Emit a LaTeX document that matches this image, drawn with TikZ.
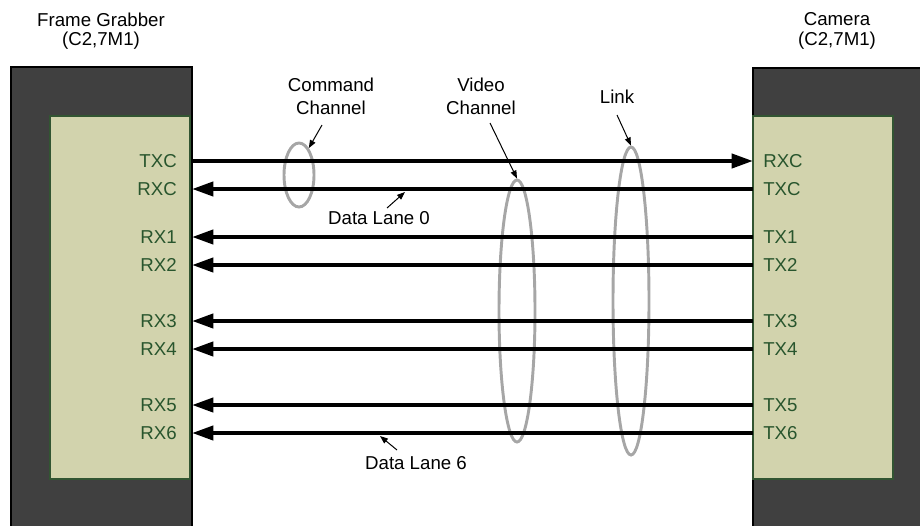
\documentclass[tikz,border=0pt]{standalone}
\usepackage{fontspec}
\setmainfont{Liberation Sans}
\usetikzlibrary{arrows.meta,shapes.geometric}
\definecolor{boxdark}{RGB}{64,64,64}
\definecolor{pinfill}{RGB}{210,211,173}
\definecolor{pinedge}{RGB}{50,85,50}
\definecolor{pintext}{RGB}{40,85,45}
\definecolor{loopgray}{RGB}{166,166,166}
\tikzset{
    devbox/.style={draw=black,fill=boxdark,line width=2.2pt},
    pinbox/.style={draw=pinedge,fill=pinfill,line width=0.8pt},
    pinl/.style={anchor=east,inner sep=0pt,text=pintext,font=\fontsize{14pt}{17pt}\selectfont},
    pinr/.style={anchor=west,inner sep=0pt,text=pintext,font=\fontsize{14pt}{17pt}\selectfont},
    title/.style={align=center,inner sep=0pt,font=\fontsize{14pt}{14.5pt}\selectfont},
    note/.style={align=center,inner sep=0pt,font=\fontsize{14pt}{17pt}\selectfont},
    bus/.style={line width=3pt,-{Triangle[length=16pt,width=10.5pt]}},
    wireloop/.style={draw=loopgray,line width=2.2pt,ellipse,inner sep=0pt},
    pointer/.style={line width=0.75pt,-{Triangle[length=6pt,width=4.5pt]}}
}
\begin{document}
\begin{tikzpicture}[x=0.75pt,y=-0.75pt]
\useasboundingbox (0,0) rectangle (920,525);
% devices
\draw[devbox] (11,67) rectangle (192,540);
\draw[devbox] (753,68) rectangle (940,540);
\draw[pinbox] (50,116) rectangle (190,479);
\draw[pinbox] (753,116) rectangle (893,479);
\coordinate (fgR) at (192,0);
\coordinate (camL) at (753,0);
\node[title] (fgTitle) at (101,31) {Frame Grabber\\(C2,7M1)};
\node[title] (camTitle) at (837,31) {Camera\\(C2,7M1)};
% cable loops
\node[wireloop,minimum width=22.5pt,minimum height=48pt] (cmdLoop) at (299,175) {};
\node[wireloop,minimum width=27pt,minimum height=196.5pt] (vidLoop) at (517,311) {};
\node[wireloop,minimum width=27pt,minimum height=231pt] (linkLoop) at (631,301) {};
% control pair
\node[pinl] (fgTXC) at (177,161) {TXC};
\node[pinl] (fgRXC) at (177,189) {RXC};
\node[pinr] (camRXC) at (763,161) {RXC};
\node[pinr] (camTXC) at (763,189) {TXC};
\draw[bus] (fgR |- fgTXC) -- (camL |- camRXC);
\draw[bus] (camL |- camTXC) -- (fgR |- fgRXC);
% data lanes
\foreach \n/\y in {1/237,2/265,3/321,4/349,5/405,6/433} {
    \node[pinl] (fgRX\n) at (177,\y) {RX\n};
    \node[pinr] (camTX\n) at (763,\y) {TX\n};
    \draw[bus] (camL |- camTX\n) -- (fgR |- fgRX\n);
}
% callouts
\node[note] (cmdLbl) at (331,96) {Command\\Channel};
\node[note] (vidLbl) at (481,96) {Video\\Channel};
\node[note] (linkLbl) at (617,97) {Link};
\node[note] (lane0Lbl) at (379,218) {Data Lane 0};
\node[note] (lane6Lbl) at (416,463) {Data Lane 6};
\coordinate (cmdTail) at (322,125);
\coordinate (vidTail) at (490,123);
\coordinate (linkTail) at (617,115);
\coordinate (lane0Tail) at (387,208);
\coordinate (lane0Tip) at (405,192);
\coordinate (lane6Tail) at (397,450);
\coordinate (lane6Tip) at (380,436);
\draw[pointer] (cmdTail) -- (cmdLoop.70);
\draw[pointer] (vidTail) -- (vidLoop.north);
\draw[pointer] (linkTail) -- (linkLoop.north);
\draw[pointer] (lane0Tail) -- (lane0Tip);
\draw[pointer] (lane6Tail) -- (lane6Tip);
\end{tikzpicture}
\end{document}
